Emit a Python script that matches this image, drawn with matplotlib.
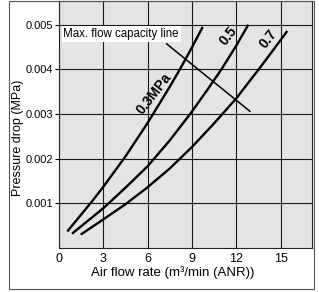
import matplotlib
matplotlib.use('Agg')
import matplotlib.pyplot as plt
from matplotlib.patches import Rectangle

plt.rcParams['font.family'] = ['Liberation Sans', 'DejaVu Sans']

# curves: air flow (m3/min) vs pressure drop (MPa)
flow_03 = [0.56, 2.2, 3.0, 4.5, 6.0, 7.5, 8.2, 9.0, 9.73]
drop_03 = [0.00037, 0.00103, 0.00137, 0.00205, 0.00280, 0.00361, 0.00401, 0.00449, 0.00495]

flow_05 = [0.88, 3.0, 4.5, 6.0, 7.5, 8.88, 10.0, 11.0, 12.0, 12.82]
drop_05 = [0.00032, 0.00089, 0.00135, 0.00183, 0.00241, 0.00300, 0.00352, 0.00400, 0.00453, 0.00500]

flow_07 = [1.47, 3.0, 4.5, 6.0, 7.5, 9.0, 10.5, 12.0, 13.5, 14.5, 15.46]
drop_07 = [0.00030, 0.00064, 0.00098, 0.00136, 0.00178, 0.00226, 0.00279, 0.00335, 0.00399, 0.00443, 0.00486]

# max. flow capacity line
maxline_x = [7.29, 12.93]
maxline_y = [0.00457, 0.00306]

xticks = [0, 3, 6, 9, 12, 15]
yticks = [0.001, 0.002, 0.003, 0.004, 0.005]
ytick_labels = ['0.001', '0.002', '0.003', '0.004', '0.005']

fig = plt.figure(figsize=(3.19, 2.92), dpi=100)
ax = fig.add_axes([59/319, 44/292, 253/319, 247/292])
ax.set_facecolor('#e4e4e4')

for f, d in [(flow_03, drop_03), (flow_05, drop_05), (flow_07, drop_07)]:
    ax.plot(f, d, color='black', lw=1.7, solid_capstyle='butt', zorder=3)
ax.plot(maxline_x, maxline_y, color='black', lw=1.1, zorder=3)

ax.text(0.3, 0.00479, 'Max. flow capacity line', fontsize=8.3, va='center', ha='left',
        bbox=dict(facecolor='white', edgecolor='none', pad=1.2), zorder=4)
ax.text(6.45, 0.00345, '0.3MPa', fontsize=10, fontweight='bold', rotation=52,
        ha='center', va='center', zorder=4)
ax.text(11.5, 0.00474, '0.5', fontsize=10, fontweight='bold', rotation=52,
        ha='center', va='center', zorder=4)
ax.text(14.15, 0.00468, '0.7', fontsize=10, fontweight='bold', rotation=52,
        ha='center', va='center', zorder=4)

ax.set_xlim(0, 17.13)
ax.set_ylim(0, 0.00553)
ax.set_xticks(xticks)
ax.set_yticks(yticks)
ax.set_yticklabels(ytick_labels)
ax.grid(True, color='#1a1a1a', lw=0.8)
ax.set_axisbelow(True)
ax.tick_params(axis='x', length=0, pad=3.5, labelsize=9)
ax.tick_params(axis='y', length=3, width=0.8, pad=1, labelsize=8)
for s in ax.spines.values():
    s.set_linewidth(0.8)
    s.set_color('#222222')

ax.set_xlabel('Air flow rate (m³/min (ANR))', fontsize=9.5)
ax.set_ylabel('Pressure drop (MPa)', fontsize=9)
ax.xaxis.set_label_coords(0.449, -0.075)
ax.yaxis.set_label_coords(-0.14, 0.445)

fig.patches.append(Rectangle((9/319, 3/292), 304.5/319, 288.5/292, transform=fig.transFigure,
                             fill=False, edgecolor='#555555', lw=0.8))

fig.savefig('out.png', dpi=100)
